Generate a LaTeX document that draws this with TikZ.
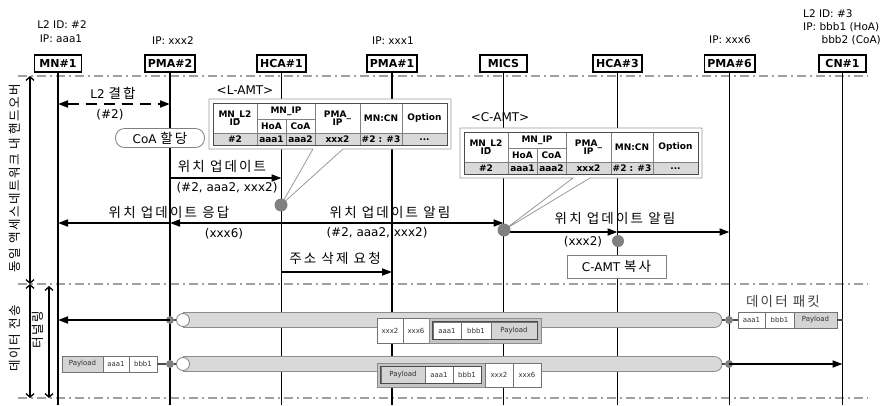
\documentclass[tikz,border=0pt]{standalone}
\usepackage{fontspec}
\setmainfont{DejaVu Sans}
\newfontfamily\kr[LetterSpace=16]{Noto Sans CJK KR}
\newfontfamily\krv[LetterSpace=12]{Noto Sans CJK KR}
\usetikzlibrary{arrows.meta}
\definecolor{lgray}{HTML}{D9D9D9}
\definecolor{mgray}{HTML}{A0A0A0}
\definecolor{cgray}{HTML}{808080}
\definecolor{pgray}{HTML}{D4D4D4}
\definecolor{ggray}{HTML}{C4C4C4}

\newcommand\amtgrid[3]{%
\begin{scope}[shift={(#1,#2)}]
\fill[lgray] (0,30) rectangle (234,42);
\draw[tline] (0,30) -- (234,30) (44,16) -- (102,16) (73,16) -- (73,42)
  (44,0) -- (44,42) (102,0) -- (102,42) (147,0) -- (147,42) (189,0) -- (189,42);
\draw[tline, draw=black!70] (0,0) rectangle (234,42);
\node[tt] (#3a) at (22,15) {MN\_L2\\[-1pt]ID};
\node[tt] (#3b) at (73,8) {MN\_IP};
\node[tt] (#3c) at (58.5,23) {HoA};
\node[tt] (#3d) at (87.5,23) {CoA};
\node[tt] (#3e) at (124.5,15) {PMA\_\\[-1pt]IP};
\node[tt] (#3f) at (168,15) {MN:CN};
\node[tt] (#3g) at (211.5,15) {Option};
\node[tt] (#3h) at (22,36.5) {\#2};
\node[tt] (#3i) at (58.5,36.5) {aaa1};
\node[tt] (#3j) at (87.5,36.5) {aaa2};
\node[tt] (#3k) at (124.5,36.5) {xxx2};
\node[tt] (#3l) at (168,36.5) {\#2 : \#3};
\node[tt] (#3m) at (211.5,36.5) {...};
\end{scope}}

\begin{document}
\begin{tikzpicture}[x=1pt,y=-1pt,
  hdr/.style={draw, line width=1.6pt, fill=white, minimum width=47pt, minimum height=17pt, inner xsep=3pt, inner ysep=0pt, font=\fontsize{11}{12}\selectfont\bfseries},
  life/.style={line width=1.8pt},
  sep/.style={draw=mgray, line width=1.2pt, dash pattern=on 9pt off 4pt on 2pt off 4pt},
  msg/.style={line width=1.8pt, -{Triangle[length=10pt,width=7pt]}},
  dmsg/.style={line width=1.8pt, dash pattern=on 11pt off 7pt, {Triangle[length=10pt,width=7pt]}-{Triangle[length=10pt,width=7pt]}},
  lbl/.style={font=\fontsize{12}{13}\selectfont, inner sep=0pt},
  krl/.style={font=\kr\fontsize{13.5}{14}\selectfont, inner sep=0pt},
  vtl/.style={font=\krv\fontsize{12.5}{13}\selectfont, inner sep=0pt, rotate=90},
  toplbl/.style={font=\fontsize{10.5}{12}\selectfont, inner sep=0pt},
  dot/.style={circle, fill=cgray, minimum size=13pt, inner sep=0pt},
  sdot/.style={circle, fill=cgray, minimum size=8pt, inner sep=0pt},
  ocirc/.style={circle, draw=cgray, fill=white, line width=0.8pt, minimum size=13pt, inner sep=0pt},
  tline/.style={draw=black!50, line width=0.6pt},
  tt/.style={font=\fontsize{9}{9.5}\selectfont\bfseries, align=center, inner sep=0pt},
  callout/.style={draw=black!40, fill=white, line width=0.8pt},
  pill/.style={draw=cgray, fill=white, line width=0.8pt, rounded corners=9pt, minimum width=89pt, minimum height=19pt, inner sep=0pt, font=\fontsize{12}{13}\selectfont},
  cbox/.style={draw=cgray, fill=white, line width=0.8pt, minimum width=99pt, minimum height=23pt, inner sep=0pt, font=\fontsize{12}{13}\selectfont},
  varr/.style={line width=1.3pt, {Straight Barb[length=3.5pt,width=8pt]}-{Straight Barb[length=3.5pt,width=8pt]}},
  pipe/.style={draw=black!45, fill=lgray, line width=0.8pt, rounded corners=7.5pt},
  link/.style={draw=black!70, line width=1.5pt},
  pcell/.style={draw=black!55, fill=white, line width=0.6pt, inner sep=0pt, minimum height=16pt, font=\fontsize{7}{8}\selectfont, text=black!80},
  pgcell/.style={pcell, fill=pgray},
  grp/.style={draw=black!45, fill=ggray, line width=0.8pt, inner sep=0pt}
]
\useasboundingbox (0,0) rectangle (884,405);

% separators
\draw[sep] (18,76) -- (868,76);
\draw[sep] (18,284) -- (868,284);
\draw[sep] (18,398) -- (868,398);

% headers
\node[hdr] (mn) at (58,63.5) {MN\#1};
\node[hdr] (pma2) at (170,63.5) {PMA\#2};
\node[hdr] (hca1) at (281.5,63.5) {HCA\#1};
\node[hdr] (pma1) at (392,63.5) {PMA\#1};
\node[hdr] (mics) at (503.5,63.5) {MICS};
\node[hdr] (hca3) at (617.5,63.5) {HCA\#3};
\node[hdr] (pma6) at (729.5,63.5) {PMA\#6};
\node[hdr] (cn) at (842.5,63.5) {CN\#1};

\foreach \n in {mn,pma2,hca1,pma1,mics,hca3,pma6,cn}
  \draw[life] (\n.south) -- (\n.south |- 0,405);

% header labels
\node[toplbl] (mnl1) at (62,25) {L2 ID: \#2};
\node[toplbl] (mnl2) at (61,39) {IP: aaa1};
\node[toplbl] (pma2l) at (173,41) {IP: xxx2};
\node[toplbl] (pma1l) at (393,41) {IP: xxx1};
\node[toplbl] (pma6l) at (730,40) {IP: xxx6};
\node[toplbl, anchor=west] (cnl1) at (803,14) {L2 ID: \#3};
\node[toplbl, anchor=west] (cnl2) at (803,27) {IP: bbb1 (HoA)};
\node[toplbl, anchor=east] (cnl3) at (881,40) {bbb2 (CoA)};

% left vertical arrows and labels
\coordinate (va1) at (30,76);
\coordinate (va2) at (30,284);
\coordinate (va3) at (30,398);
\coordinate (vb1) at (49,286);
\coordinate (vb2) at (49,398);
\draw[varr] (va1) -- (va2);
\draw[varr] (va2) -- (va3);
\draw[varr] (vb1) -- (vb2);
\node[vtl] (vt1) at (15,178) {동일 액세스네트워크 내 핸드오버};
\node[vtl] (vt2) at (15,338) {데이터 전송};
\node[vtl] (vt3) at (38,330) {터널링};

% L2 attach
\node[lbl] (t1) at (113,93) {L2 {\kr\fontsize{13.5}{14}\selectfont 결합}};
\draw[dmsg] (mn |- 0,104) -- (pma2 |- 0,104);
\node[lbl] (t1b) at (110,115) {(\#2)};
\node[pill] (coa) at (160,138) {CoA {\kr\fontsize{13.5}{14}\selectfont 할당}};

% location update
\node[krl] (t2) at (222,166) {위치 업데이트};
\draw[msg] (pma2 |- 0,178) -- (hca1 |- 0,178);
\node[lbl] (t2b) at (227,188) {(\#2, aaa2, xxx2)};

% response / notify
\node[krl] (t3) at (169,212) {위치 업데이트 응답};
\draw[msg] (hca1 |- 0,223) -- (pma2 |- 0,223);
\draw[msg] (pma2 |- 0,223) -- (mn |- 0,223);
\node[lbl] (t3b) at (224,234) {(xxx6)};
\node[krl] (t4) at (390,212) {위치 업데이트 알림};
\draw[msg] (hca1 |- 0,223) -- (mics |- 0,223);
\node[lbl] (t4b) at (377,233) {(\#2, aaa2, xxx2)};

\node[krl] (t5) at (615,218) {위치 업데이트 알림};
\draw[msg] (mics |- 0,232) -- (hca3 |- 0,232);
\draw[msg] (hca3 |- 0,232) -- (pma6 |- 0,232);
\node[lbl] (t5b) at (583,242) {(xxx2)};
\node[cbox] (camt) at (616.5,266.5) {C-AMT {\kr\fontsize{13.5}{14}\selectfont 복사}};

\node[krl] (t6) at (335,258) {주소 삭제 요청};
\draw[msg] (hca1 |- 0,272) -- (pma1 |- 0,272);

% L-AMT callout
\coordinate (c1p) at (281,205);
\node[lbl] (lamtl) at (245,90) {<L-AMT>};
\filldraw[callout] (209,99) -- (451,99) -- (451,149) -- (343,149) -- (c1p) -- (313,149) -- (209,149) -- cycle;
\amtgrid{213}{103}{la}
\node[dot] (c1) at (c1p) {};

% C-AMT callout
\coordinate (c2p) at (504,230);
\node[lbl] (camtl) at (500,117) {<C-AMT>};
\filldraw[callout] (460,128) -- (702,128) -- (702,178) -- (590,178) -- (c2p) -- (573,178) -- (460,178) -- cycle;
\amtgrid{464}{132}{ca}
\node[dot] (c2) at (c2p) {};
\node[dot, minimum size=12pt] (c3) at (618,241) {};

% ---------- data transfer ----------
% row 1
\filldraw[pipe] (183,312.5) -- (722,312.5) -- (722,327.5) -- (183,327.5);
\node[sdot] (d1) at (170,320) {};
\node[ocirc] (o1) at (183,320) {};
\draw[link] (d1) -- (o1);
\draw[msg] (d1.center) -- (mn |- 0,320);
\node[sdot] (d2) at (729,320) {};
\coordinate (pe1) at (722,320);
\draw[link] (pe1) -- (d2);
\node[pcell, minimum width=27pt] (r1a) at (751.5,320) {aaa1};
\node[pcell, minimum width=29pt] (r1b) at (779.5,320) {bbb1};
\node[pgcell, minimum width=43pt] (r1c) at (815.5,320) {Payload};
\draw[link] (d2) -- (r1a.west);
\draw[link] (r1c.east) -- (cn |- 0,320);
\node[font=\kr\fontsize{13.5}{14}\selectfont, text=black!75, inner sep=0pt] (dp) at (783,301) {데이터 패킷};

\node[pcell, minimum width=26pt, minimum height=25pt] (m1a) at (390,330.5) {xxx2};
\node[pcell, minimum width=26pt, minimum height=25pt] (m1b) at (416,330.5) {xxx6};
\node[grp, minimum width=112pt, minimum height=25pt] (m1g) at (485,330.5) {};
\node[pcell, minimum width=28pt, minimum height=17pt] (m1c) at (447,330.5) {aaa1};
\node[pcell, minimum width=30pt, minimum height=17pt] (m1d) at (476,330.5) {bbb1};
\node[pgcell, minimum width=46pt, minimum height=17pt] (m1e) at (514,330.5) {Payload};
\draw[draw=black!70, line width=0.8pt] (m1c.north west) rectangle (m1e.south east);

% row 2
\filldraw[pipe] (183,356.5) -- (722,356.5) -- (722,371.5) -- (183,371.5);
\node[pgcell, minimum width=41pt] (l2a) at (82.5,364) {Payload};
\node[pcell, minimum width=26pt] (l2b) at (116,364) {aaa1};
\node[pcell, minimum width=28pt] (l2c) at (143,364) {bbb1};
\node[sdot] (d3) at (170,364) {};
\node[ocirc] (o2) at (183,364) {};
\draw[link] (l2c.east) -- (d3);
\draw[link] (d3) -- (o2);
\node[sdot] (d4) at (729,364) {};
\coordinate (pe2) at (722,364);
\draw[link] (pe2) -- (d4);
\draw[msg] (d4.center) -- (cn |- 0,364);

\node[grp, minimum width=108pt, minimum height=24pt] (m2g) at (431,375) {};
\node[pgcell, minimum width=44pt, minimum height=17pt] (m2a) at (403,375) {Payload};
\node[pcell, minimum width=28pt, minimum height=17pt] (m2b) at (439,375) {aaa1};
\node[pcell, minimum width=28pt, minimum height=17pt] (m2c) at (467,375) {bbb1};
\draw[draw=black!70, line width=0.8pt] (m2a.north west) rectangle (m2c.south east);
\node[pcell, minimum width=28pt, minimum height=24pt] (m2d) at (499,375) {xxx2};
\node[pcell, minimum width=28pt, minimum height=24pt] (m2e) at (527,375) {xxx6};
\end{tikzpicture}
\end{document}
